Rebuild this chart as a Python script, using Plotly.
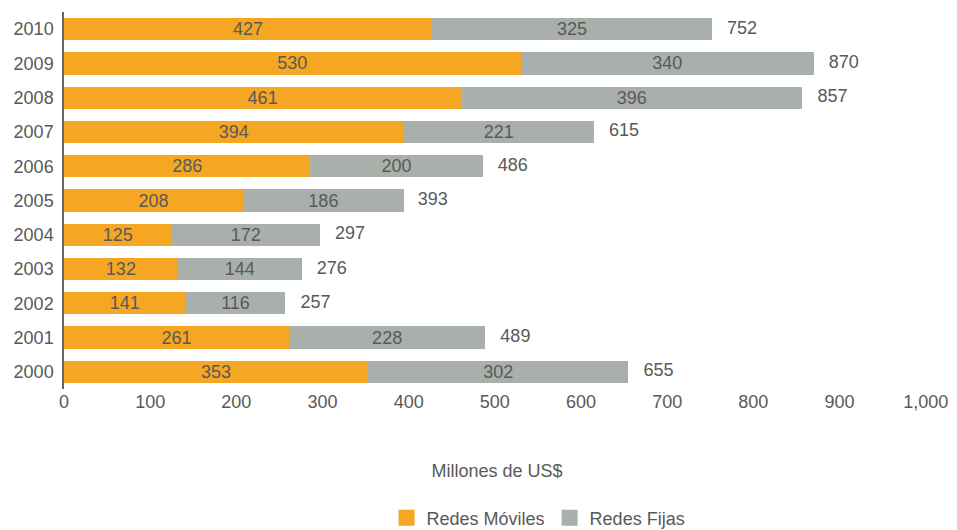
import plotly.graph_objects as go

years = ["2000", "2001", "2002", "2003", "2004", "2005", "2006", "2007", "2008", "2009", "2010"]
moviles = [353, 261, 141, 132, 125, 208, 286, 394, 461, 530, 427]
fijas = [302, 228, 116, 144, 172, 186, 200, 221, 396, 340, 325]
totales = [655, 489, 257, 276, 297, 393, 486, 615, 857, 870, 752]
tick_vals = [0, 100, 200, 300, 400, 500, 600, 700, 800, 900, 1000]
tick_text = ["0", "100", "200", "300", "400", "500", "600", "700", "800", "900", "1,000"]

ORANGE = "#F5A623"
GRAY = "#A9AFAB"
TXT = "#595959"
FONT = "Liberation Sans, Arial, sans-serif"
FS = 18

fig = go.Figure()
fig.add_trace(go.Bar(
    y=years, x=moviles, orientation="h", name="Redes Móviles",
    marker=dict(color=ORANGE, line=dict(width=0)),
    text=[str(v) for v in moviles], textposition="inside", insidetextanchor="middle",
    textfont=dict(color=TXT, size=FS, family=FONT), constraintext="none",
    hoverinfo="skip", showlegend=False,
))
fig.add_trace(go.Bar(
    y=years, x=fijas, orientation="h", name="Redes Fijas",
    marker=dict(color=GRAY, line=dict(width=0)),
    text=[str(v) for v in fijas], textposition="inside", insidetextanchor="middle",
    textfont=dict(color=TXT, size=FS, family=FONT), constraintext="none",
    hoverinfo="skip", showlegend=False,
))
fig.add_trace(go.Scatter(
    y=years, x=totales, mode="text", text=["   " + str(v) for v in totales],
    textposition="middle right", textfont=dict(color=TXT, size=FS, family=FONT),
    showlegend=False, hoverinfo="skip", cliponaxis=False,
))
# legend entries with larger square swatches
for nm, col in [("Redes Móviles", ORANGE), ("Redes Fijas", GRAY)]:
    fig.add_trace(go.Scatter(
        y=[None], x=[None], mode="markers", name=nm,
        marker=dict(symbol="square", size=18, color=col), hoverinfo="skip",
    ))

fig.update_layout(
    barmode="stack", bargap=0.35,
    width=957, height=530,
    margin=dict(l=64, r=27, t=12, b=141, autoexpand=False),
    plot_bgcolor="white", paper_bgcolor="white",
    font=dict(family=FONT, size=FS, color=TXT),
    xaxis=dict(range=[0, 1005], tickvals=tick_vals, ticktext=tick_text,
               showgrid=False, zeroline=False, showline=False, ticks="",
               tickfont=dict(size=FS, color=TXT), automargin=False,
               title=dict(text="Millones de US$", standoff=53, font=dict(size=FS, color=TXT))),
    yaxis=dict(showgrid=False, zeroline=False, showline=True, linecolor="#666666", linewidth=1.5,
               ticks="", ticklabelstandoff=5, tickfont=dict(size=FS, color=TXT),
               range=[-0.5, 10.5], automargin=False),
    legend=dict(orientation="h", x=0.548, xanchor="center", yref="container",
                y=1 - 518 / 530, yanchor="middle", font=dict(size=FS, color=TXT),
                traceorder="normal", itemsizing="trace", itemwidth=30),
)

fig.write_html("out.html")
